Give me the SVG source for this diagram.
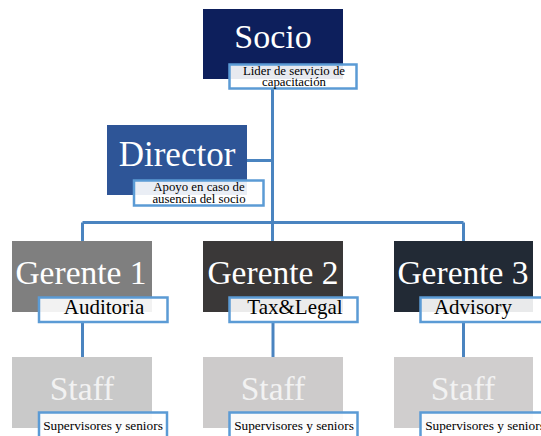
<svg xmlns="http://www.w3.org/2000/svg" width="541" height="436" viewBox="0 0 541 436">
<style>
.title{font-family:"Liberation Serif","Times New Roman",serif;fill:#ffffff;text-anchor:middle}
.lbl{fill:#ffffff;fill-opacity:0.9;stroke:#5b9bd5;stroke-width:2.5}
.lt{font-family:"Liberation Serif","Times New Roman",serif;fill:#000000;text-anchor:middle}
.con{stroke:#4a84c0;stroke-width:3;fill:none}
</style>
<rect width="541" height="436" fill="#ffffff"/>
<g id="connectors">
<path class="con" d="M272.5 89 V241"/>
<path class="con" d="M247 160.5 H272.5"/>
<path class="con" d="M82.5 222.5 H463.5"/>
<path class="con" d="M82.5 222.5 V241"/>
<path class="con" d="M463.5 222.5 V241"/>
<path class="con" d="M82.5 322 V357"/>
<path class="con" d="M273 322 V357"/>
<path class="con" d="M463.5 322 V357"/>
</g>
<g id="socio">
<rect x="203" y="9" width="140" height="70" fill="#0d1f5c"/>
<text class="title" x="273" y="48" font-size="34">Socio</text>
<rect class="lbl" x="229.5" y="64.5" width="127" height="24"/>
<text class="lt" x="294" y="74.5" font-size="12.8">Lider de servicio de</text>
<text class="lt" x="294" y="85.5" font-size="12.8">capacitación</text>
</g>
<g id="director">
<rect x="107" y="125" width="140" height="70" fill="#2e5597"/>
<text class="title" x="177" y="166" font-size="35">Director</text>
<rect class="lbl" x="134" y="180.5" width="129.5" height="25"/>
<text class="lt" x="199" y="190.5" font-size="12.8">Apoyo en caso de</text>
<text class="lt" x="199" y="202.5" font-size="12.8">ausencia del socio</text>
</g>
<g id="gerente1">
<rect x="12" y="241" width="140" height="71" fill="#7f7f7f"/>
<text class="title" x="81" y="284" font-size="33.5">Gerente 1</text>
<rect class="lbl" x="39" y="297.5" width="128.5" height="24.5"/>
<text class="lt" x="104" y="314" font-size="21">Auditoria</text>
</g>
<g id="gerente2">
<rect x="203" y="241" width="140" height="71" fill="#3a3838"/>
<text class="title" x="273" y="284" font-size="33.5">Gerente 2</text>
<rect class="lbl" x="229.5" y="297.5" width="128" height="24.5"/>
<text class="lt" x="295" y="314" font-size="21">Tax&amp;Legal</text>
</g>
<g id="gerente3">
<rect x="394" y="241" width="139" height="71" fill="#222a35"/>
<text class="title" x="463" y="284" font-size="33.5">Gerente 3</text>
<rect class="lbl" x="420.5" y="297.5" width="130" height="24.5"/>
<text class="lt" x="473" y="314" font-size="21">Advisory</text>
</g>
<g id="staff1">
<rect x="12" y="357" width="140" height="71" fill="#c9c9c9"/>
<text class="title" x="82" y="400" font-size="33.5" style="fill:#f2f2f2">Staff</text>
<rect class="lbl" x="39" y="412.5" width="128" height="30"/>
<text class="lt" x="103" y="430" font-size="13.3">Supervisores y seniors</text>
</g>
<g id="staff2">
<rect x="203" y="357" width="140" height="71" fill="#cdcbcb"/>
<text class="title" x="273" y="400" font-size="33.5" style="fill:#f2f2f2">Staff</text>
<rect class="lbl" x="229.5" y="412.5" width="128" height="30"/>
<text class="lt" x="294" y="430" font-size="13.3">Supervisores y seniors</text>
</g>
<g id="staff3">
<rect x="394" y="357" width="139" height="71" fill="#d0cece"/>
<text class="title" x="463" y="400" font-size="33.5" style="fill:#f2f2f2">Staff</text>
<rect class="lbl" x="420.5" y="412.5" width="130" height="30"/>
<text class="lt" x="485" y="430" font-size="13.3">Supervisores y seniors</text>
</g>
</svg>
